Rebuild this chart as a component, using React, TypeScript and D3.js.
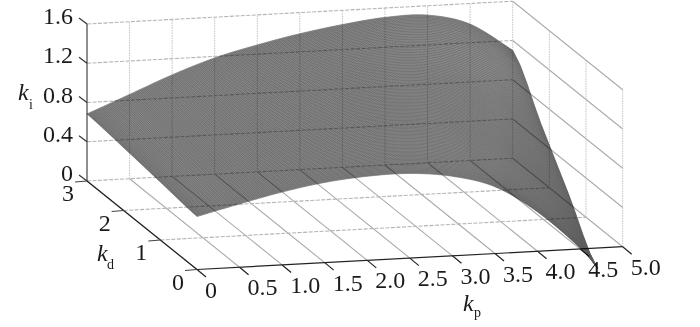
import { useMemo } from 'react'
import * as d3 from 'd3'

const kpTicks = [0, 0.5, 1, 1.5, 2, 2.5, 3, 3.5, 4, 4.5, 5]
const kdTicks = [0, 1, 2, 3]
const kiTicks = [0, 0.4, 0.8, 1.2, 1.6]

// the surface: kp columns, and one row per kd.
// the last column is where each row stops on the right edge.
const kpColumns = [0, 0.5, 1, 1.5, 2, 2.5, 3, 3.5, 4, 4.5]
const kpEnd = [4.71, 4.8, 4.9, 5]
const kiKd0 = [0.54, 0.645, 0.743, 0.817, 0.857, 0.862, 0.81, 0.68, 0.4, 0.01, -0.215]
const kiKd1 = [0.59, 0.72, 0.84, 0.93, 1.0, 1.04, 1.03, 0.95, 0.75, 0.42, 0.235]
const kiKd2 = [0.64, 0.79, 0.94, 1.06, 1.15, 1.22, 1.25, 1.24, 1.13, 0.9, 0.66]
const kiKd3 = [0.683, 0.859, 1.035, 1.185, 1.294, 1.385, 1.455, 1.505, 1.505, 1.39, 1.1]
const kiRows = [kiKd0, kiKd1, kiKd2, kiKd3]

// fixed oblique view: each axis adds its own screen offset
const xFromKp = d3.scaleLinear().domain([0, 5]).range([0, 425.7])
const yFromKp = d3.scaleLinear().domain([0, 5]).range([0, -22.8])
const xFromKd = d3.scaleLinear().domain([0, 3]).range([0, -110])
const yFromKd = d3.scaleLinear().domain([0, 3]).range([0, -88.5])
const yFromKi = d3.scaleLinear().domain([0, 1.6]).range([0, -157])
const originX = 197
const originY = 269.5

const px = (kp: number, kd: number) => originX + xFromKp(kp) + xFromKd(kd)
const py = (kp: number, kd: number, ki = 0) => originY + yFromKp(kp) + yFromKd(kd) + yFromKi(ki)
const seg = (a: number[], b: number[]) => `M${a[0]},${a[1]}L${b[0]},${b[1]}`
const pt = (kp: number, kd: number, ki = 0) => [px(kp, kd), py(kp, kd, ki)]

// smooth reading between table entries, only to subdivide the mesh
function spline(v: number[], t: number) {
  const i = Math.min(Math.floor(t), v.length - 2)
  const f = t - i
  const a = v[Math.max(i - 1, 0)], b = v[i], c = v[i + 1], d = v[Math.min(i + 2, v.length - 1)]
  return b + 0.5 * f * (c - a + f * (2 * a - 5 * b + 4 * c - d + f * (3 * (b - c) + d - a)))
}

function surfacePoint(col: number, row: number) {
  const kd = row
  const colKi = kiRows.map(r => spline(r, col))
  const ki = spline(colKi, row)
  const colKp = kpEnd.map(e => spline([...kpColumns, e], col))
  const kp = spline(colKp, row)
  return pt(kp, kd, ki)
}

const lineGen = d3.line<number[]>()

function buildSurface() {
  const cols = 300
  const rows = 110
  const colMax = kpColumns.length
  const rowMax = kdTicks.length - 1
  let mesh = ''
  for (let i = 0; i <= cols; i++) {
    const c = (i / cols) * colMax
    mesh += lineGen(d3.range(0, 13).map(j => surfacePoint(c, (j / 12) * rowMax)))
  }
  for (let j = 0; j <= rows; j++) {
    const r = (j / rows) * rowMax
    mesh += lineGen(d3.range(0, 111).map(i => surfacePoint((i / 110) * colMax, r)))
  }
  const outline = [
    ...d3.range(0, 111).map(i => surfacePoint((i / 110) * colMax, 0)),
    ...d3.range(0, 13).map(j => surfacePoint(colMax, (j / 12) * rowMax)),
    ...d3.range(110, -1, -1).map(i => surfacePoint((i / 110) * colMax, rowMax)),
    ...d3.range(12, -1, -1).map(j => surfacePoint(0, (j / 12) * rowMax)),
  ]
  return { mesh, outline: lineGen(outline) + 'Z' }
}

const serif = '"Liberation Serif", serif'
const fs = 24

export default function App() {
  const { mesh, outline } = useMemo(buildSurface, [])
  const kpMax = 5
  const kdMax = 3
  const kiMax = 1.6

  const solidGrid =
    kpTicks.map(k => seg(pt(k, 0), pt(k, kdMax))).join('') +
    kiTicks.slice(1).map(k => seg(pt(kpMax, 0, k), pt(kpMax, kdMax, k))).join('')
  const dashedGrid =
    kdTicks.slice(1).map(k => seg(pt(0, k), pt(kpMax, k))).join('') +
    kiTicks.slice(1).map(k => seg(pt(0, kdMax, k), pt(kpMax, kdMax, k))).join('')
  const dottedGrid =
    kpTicks.slice(1).map(k => seg(pt(k, kdMax), pt(k, kdMax, kiMax))).join('') +
    kdTicks.slice(0, -1).map(k => seg(pt(kpMax, k), pt(kpMax, k, kiMax))).join('')

  return (
    <svg width={700} height={327} style={{ position: 'absolute', left: 0, top: 0, background: '#fff' }} fontFamily={serif} fontSize={fs} fill="#1a1a1a">
      <defs>
        <linearGradient id="sheen" gradientUnits="userSpaceOnUse" x1={87} x2={598} y1={0} y2={0}>
          <stop offset="0" stopColor="#9c9c9c" />
          <stop offset="0.55" stopColor="#a2a2a2" />
          <stop offset="0.8" stopColor="#b6b6b6" />
          <stop offset="1" stopColor="#8c8c8c" />
        </linearGradient>
      </defs>

      <path d={solidGrid} stroke="#ababab" strokeWidth={1.1} fill="none" />
      <path d={dashedGrid} stroke="#b4b4b4" strokeWidth={1.1} strokeDasharray="4 1.5" fill="none" />
      <path d={dottedGrid} stroke="#c2c2c2" strokeWidth={1} strokeDasharray="1.5 1" fill="none" />

      {/* axes */}
      <path d={seg(pt(0, kdMax), pt(0, kdMax, kiMax))} stroke="#6a6a6a" strokeWidth={1.5} />
      <path d={seg(pt(0, 0), pt(kpMax, 0))} stroke="#222" strokeWidth={1.2} />
      <path d={seg(pt(0, 0), pt(0, kdMax))} stroke="#222" strokeWidth={1.2} />

      {kpTicks.map(k => (
        <g key={k}>
          <path d={seg(pt(k, 0), [px(k, 0) + 9, py(k, 0) + 7.5])} stroke="#222" strokeWidth={1.2} />
          <text x={px(k, 0) + 8} y={py(k, 0) + 28}>{k === 0 ? '0' : k.toFixed(1)}</text>
        </g>
      ))}
      {kdTicks.map(k => (
        <g key={k}>
          <path d={seg(pt(0, k), [px(0, k) - 12, py(0, k) + 1])} stroke="#444" strokeWidth={1.2} />
          <text x={px(0, k) - 19} y={py(0, k) + 20} textAnchor="middle">{k}</text>
        </g>
      ))}
      {kiTicks.map(k => (
        <g key={k}>
          <path d={seg(pt(0, kdMax, k), [px(0, kdMax) - 8, py(0, kdMax, k) - 6])} stroke="#333" strokeWidth={1.2} />
          <text x={73} y={py(0, kdMax, k)} textAnchor="end">{k === 0 ? '0' : k.toFixed(1)}</text>
        </g>
      ))}

      {/* axis names */}
      <text x={18} y={100} fontStyle="italic">k</text>
      <text x={29} y={109} fontSize={14}>i</text>
      <text x={97} y={261} fontStyle="italic">k</text>
      <text x={107} y={269} fontSize={14}>d</text>
      <text x={463} y={311} fontStyle="italic">k</text>
      <text x={474} y={317} fontSize={14}>p</text>

      {/* surface: grid shows through it like in the picture */}
      <g style={{ mixBlendMode: 'multiply' }}>
        <path d={outline} fill="url(#sheen)" />
        <path d={mesh} fill="none" stroke="#5a5a5a" strokeWidth={0.5} />
      </g>
    </svg>
  )
}
